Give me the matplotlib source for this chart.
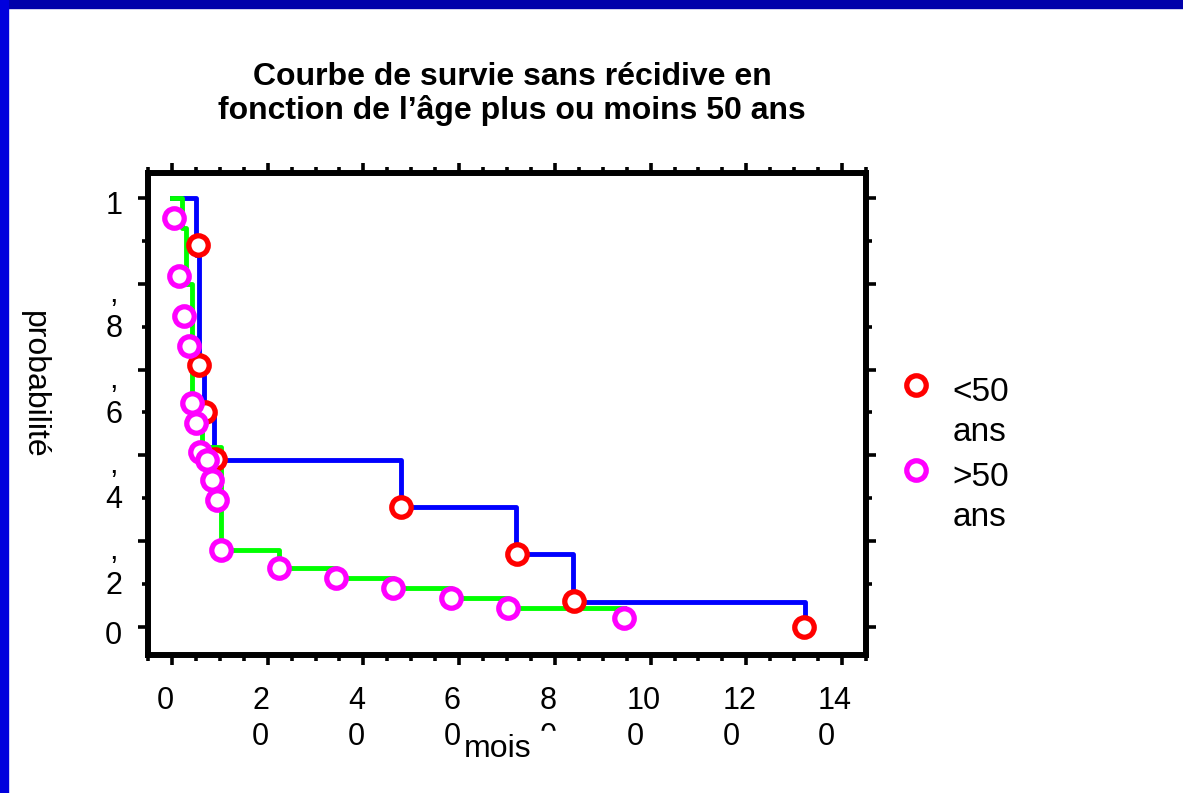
import matplotlib
matplotlib.use('Agg')
import matplotlib.pyplot as plt
from matplotlib.lines import Line2D
from matplotlib.patches import Rectangle
from matplotlib.ticker import MultipleLocator
from matplotlib.transforms import ScaledTranslation
from matplotlib.legend_handler import HandlerLine2D

plt.rcParams['font.family'] = ['Liberation Sans', 'DejaVu Sans']

# <50 ans : courbe bleue + points rouges
t_moins50 = [0, 5.1, 5.6, 6.7, 8.7, 47.9, 71.9, 83.8, 132.2]
s_moins50 = [1.0, 0.867, 0.592, 0.499, 0.389, 0.280, 0.170, 0.058, 0.0]
x_rouge = [5.4, 5.6, 6.9, 9.0, 47.9, 72.0, 83.9, 132.0]
y_rouge = [0.890, 0.611, 0.501, 0.392, 0.280, 0.170, 0.061, 0.0]

# >50 ans : courbe verte + points magenta
t_plus50 = [0, 2.1, 2.9, 4.2, 6.3, 10.3, 22.4, 34.3, 46.2, 58.4, 70.3, 94.4]
s_plus50 = [1.0, 0.93, 0.80, 0.48, 0.42, 0.179, 0.138, 0.114, 0.091, 0.068, 0.044, 0.044]
x_magenta = [0.4, 1.5, 2.5, 3.6, 4.2, 5.0, 5.9, 7.3, 8.4, 9.4, 10.3,
             22.4, 34.3, 46.2, 58.4, 70.3, 94.4]
y_magenta = [0.953, 0.818, 0.725, 0.655, 0.522, 0.476, 0.408, 0.389, 0.343, 0.296, 0.179,
             0.138, 0.114, 0.091, 0.068, 0.044, 0.021]

x_ticks = [0, 20, 40, 60, 80, 100, 120, 140]
x_labels = ['0', '2\n0', '4\n0', '6\n0', '8\n0', '10\n0', '12\n0', '14\n0']
y_ticks = [0, 0.2, 0.4, 0.6, 0.8, 1]
y_labels = ['0', ',\n2', ',\n4', ',\n6', ',\n8', '1']


class HandleHaut(HandlerLine2D):
    # met le marqueur au niveau de la premiere ligne du libelle
    def create_artists(self, legend, orig_handle, xdescent, ydescent, width, height,
                       fontsize, trans):
        arts = super().create_artists(legend, orig_handle, xdescent, ydescent, width,
                                      height, fontsize, trans)
        for a in arts:
            a.set_ydata([y + 0.85 * fontsize for y in a.get_ydata()])
        return arts


fig = plt.figure(figsize=(11.83, 7.93), dpi=100)
fig.patch.set_facecolor('white')

# cadre bleu de la diapo
fig.patches.append(Rectangle((0, 1 - 8 / 793), 1, 8 / 793, transform=fig.transFigure,
                             color='#0000AA', zorder=0))
fig.patches.append(Rectangle((0, 0), 8 / 1183, 1, transform=fig.transFigure,
                             color='#0000DD', zorder=0))

ax = fig.add_axes([148 / 1183, 1 - 655 / 793, 718 / 1183, 482 / 793])

ax.plot(t_moins50, s_moins50, drawstyle='steps-post', color='#0000FF', lw=3.5, zorder=2)
ax.plot(t_plus50, s_plus50, drawstyle='steps-post', color='#00FF00', lw=3.5, zorder=3)
ms, mew = 14, 3.8
ax.plot(x_rouge, y_rouge, ls='none', marker='o', mfc='white', mec='#FF0000',
        ms=ms, mew=mew, zorder=4, clip_on=False)
ax.plot(x_magenta, y_magenta, ls='none', marker='o', mfc='white', mec='#FF00FF',
        ms=ms, mew=mew, zorder=5, clip_on=False)

ax.set_xlim(-5, 145)
ax.set_ylim(-0.065, 1.058)
ax.set_xticks(x_ticks)
ax.set_xticklabels(x_labels, fontsize=22, multialignment='left', linespacing=1.27)
ax.set_yticks(y_ticks)
ax.set_yticklabels(y_labels, fontsize=22, multialignment='center', linespacing=1.22)
ax.xaxis.set_minor_locator(MultipleLocator(5))
ax.yaxis.set_minor_locator(MultipleLocator(0.1))
ax.tick_params(which='both', direction='out', top=True, right=True, width=2.6, color='black')
ax.tick_params(which='major', length=7.5)
ax.tick_params(which='minor', length=4.5)
ax.tick_params(axis='x', which='major', pad=15)
ax.tick_params(axis='y', which='major', pad=11)
for sp in ax.spines.values():
    sp.set_linewidth(4.3)

shift_x = ScaledTranslation(-0.07, 0, fig.dpi_scale_trans)
for lab in ax.get_xticklabels():
    lab.set_transform(lab.get_transform() + shift_x)
for lab in ax.get_yticklabels():
    if '\n' in lab.get_text():
        lab.set_verticalalignment('top')
        lab.set_transform(lab.get_transform() + ScaledTranslation(0, 0.05, fig.dpi_scale_trans))
    else:
        lab.set_transform(lab.get_transform() + ScaledTranslation(0, -0.05, fig.dpi_scale_trans))

fig.text(512 / 1183, 1 - 94 / 793,
         'Courbe de survie sans récidive en\nfonction de l’âge plus ou moins 50 ans',
         ha='center', va='center', fontsize=23, fontweight='bold', linespacing=1.15)
fig.text(34 / 1183, 1 - 385 / 793, 'probabilité', rotation=-90,
         ha='center', va='center', fontsize=23)

# zone blanche du titre d'axe qui masque le bas du "0" de 80
fig.patches.append(Rectangle((462 / 1183, 1 - 770 / 793), 100 / 1183, 39 / 793,
                             transform=fig.transFigure, color='white', zorder=5))
fig.text(464 / 1183, 1 - 749 / 793, 'mois', ha='left', va='center', fontsize=23, zorder=10)

handles = [Line2D([], [], ls='none', marker='o', mfc='white', mec='#FF0000', ms=ms, mew=mew),
           Line2D([], [], ls='none', marker='o', mfc='white', mec='#FF00FF', ms=ms, mew=mew)]
leg = fig.legend(handles, ['<50\nans', '>50\nans'], loc='upper left',
                 bbox_to_anchor=(899 / 1183, 1 - 377 / 793), frameon=False, fontsize=24,
                 handlelength=1.0, handletextpad=0.6, labelspacing=0.42, borderpad=0,
                 borderaxespad=0, handler_map={Line2D: HandleHaut()})
for t in leg.get_texts():
    t.set_linespacing(1.38)

fig.savefig('out.png', dpi=100, facecolor='white')
